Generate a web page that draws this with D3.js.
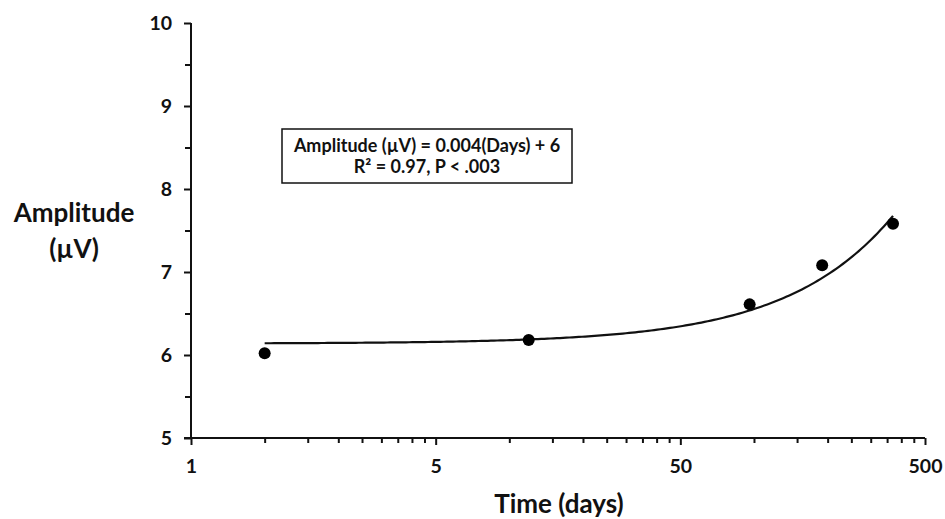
<!DOCTYPE html>
<html>
<head>
<meta charset="utf-8">
<script src="https://cdn.jsdelivr.net/npm/d3@7"></script>
<style>
  html, body { margin: 0; padding: 0; background: #fff; }
  svg { display: block; }
  text { font-family: Lato, "Open Sans", sans-serif; font-weight: bold; fill: #111; }
</style>
</head>
<body>
<svg id="chart" width="945" height="519"></svg>
<script>
// ---- data ----
const days = [1, 12, 96, 190, 370];
const amplitude = [6.02, 6.18, 6.61, 7.08, 7.58];
const xTickValues = [0.5, 5, 50, 500];
const xTickLabels = ["1", "5", "50", "500"];
const yTickValues = [5, 6, 7, 8, 9, 10];
const yMinorValues = [5.5, 6.5, 7.5, 8.5, 9.5];
const equationLines = ["Amplitude (\u00B5V) = 0.004(Days) + 6", "R\u00B2 = 0.97, P < .003"];

// ---- scales ----
const svg = d3.select("#chart");
const x = d3.scaleLog().base(10).domain([0.5, 500]).range([191, 925]);
const y = d3.scaleLinear().domain([5, 10]).range([438, 23]);

// minor ticks for log axis (Excel style: major * k, k=2..9)
const xMinor = [];
xTickValues.slice(0, -1).forEach(m => { for (let k = 2; k <= 9; k++) xMinor.push(m * k); });

// ---- axes ----
const xAxis = d3.axisBottom(x).tickValues(xTickValues)
  .tickFormat((d, i) => xTickLabels[i]).tickSize(7).tickPadding(14);
const gx = svg.append("g").attr("transform", `translate(0,${y(5)})`).call(xAxis);
gx.select(".domain").attr("d", `M${x(0.5) - 7},0H${x(500)}`);
const xMinorAxis = d3.axisBottom(x).tickValues(xMinor).tickFormat("").tickSize(5);
const gxm = svg.append("g").attr("transform", `translate(0,${y(5)})`).call(xMinorAxis);
gxm.select(".domain").remove();

const yAxis = d3.axisLeft(y).tickValues(yTickValues).tickFormat(d3.format("d")).tickSize(7).tickPadding(12);
const gy = svg.append("g").attr("transform", `translate(${x(0.5)},0)`).call(yAxis);
gy.select(".domain").attr("d", `M0,${y(10)}V${y(5)}`);
const yMinorAxis = d3.axisLeft(y).tickValues(yMinorValues).tickFormat("").tickSize(6);
const gym = svg.append("g").attr("transform", `translate(${x(0.5)},0)`).call(yMinorAxis);
gym.select(".domain").remove();

svg.selectAll(".domain, .tick line").attr("stroke", "#111").attr("stroke-width", 2);
svg.selectAll(".tick text").attr("font-size", 19.5).attr("fill", "#111")
  .style("font-family", "Lato, 'Open Sans', sans-serif").style("font-weight", "bold");

// ---- trend line (least squares on days) ----
const n = days.length;
const mx = d3.mean(days), my = d3.mean(amplitude);
let sxy = 0, sxx = 0;
for (let i = 0; i < n; i++) { sxy += (days[i] - mx) * (amplitude[i] - my); sxx += (days[i] - mx) ** 2; }
const slope = sxy / sxx, intercept = my - slope * mx;
const dMin = d3.min(days), dMax = d3.max(days);
const trend = d3.range(0, 201).map(i => {
  const d = dMin * Math.pow(dMax / dMin, i / 200);
  return [d, intercept + slope * d];
});
svg.append("path").datum(trend)
  .attr("d", d3.line().x(d => x(d[0])).y(d => y(d[1])))
  .attr("fill", "none").attr("stroke", "#111").attr("stroke-width", 2.2);

// ---- points ----
svg.append("g").selectAll("circle").data(days).join("circle")
  .attr("cx", d => x(d)).attr("cy", (d, i) => y(amplitude[i]))
  .attr("r", 6).attr("fill", "#000");

// ---- equation box ----
svg.append("rect").attr("x", 282).attr("y", 129).attr("width", 290).attr("height", 54)
  .attr("fill", "#fff").attr("stroke", "#111").attr("stroke-width", 1.5);
svg.append("g").selectAll("text").data(equationLines).join("text")
  .attr("x", 427).attr("y", (d, i) => 152 + i * 21)
  .attr("text-anchor", "middle").attr("font-size", 18).text(d => d);

// ---- axis titles ----
svg.append("text").attr("x", 74).attr("y", 222).attr("text-anchor", "middle")
  .attr("font-size", 26).text("Amplitude");
svg.append("text").attr("x", 74).attr("y", 258).attr("text-anchor", "middle")
  .attr("font-size", 26).text("(\u00B5V)");
svg.append("text").attr("x", 559).attr("y", 513).attr("text-anchor", "middle")
  .attr("font-size", 26).text("Time (days)");
</script>
</body>
</html>
